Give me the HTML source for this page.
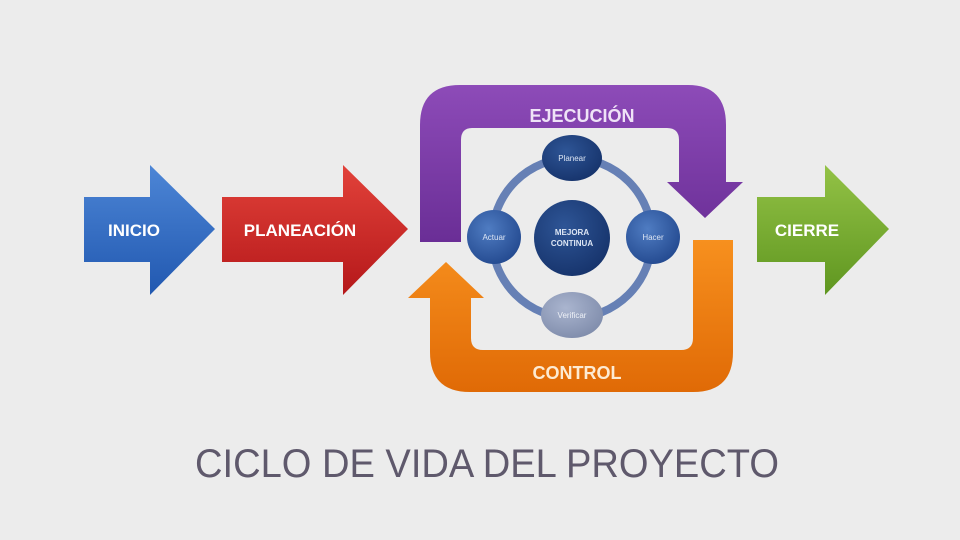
<!DOCTYPE html>
<html><head><meta charset="utf-8"><style>
html,body{margin:0;padding:0;background:#ececec;}
svg{display:block}
text{font-family:"Liberation Sans",sans-serif;}
</style></head><body>
<svg width="960" height="540" viewBox="0 0 960 540" xmlns="http://www.w3.org/2000/svg">
<defs>
<linearGradient id="blue" x1="0" y1="0" x2="0" y2="1"><stop offset="0" stop-color="#4d86d6"/><stop offset="1" stop-color="#2158b0"/></linearGradient>
<linearGradient id="red" x1="0" y1="0" x2="0" y2="1"><stop offset="0" stop-color="#e2423a"/><stop offset="1" stop-color="#b5181a"/></linearGradient>
<linearGradient id="green" x1="0" y1="0" x2="0" y2="1"><stop offset="0" stop-color="#93c246"/><stop offset="1" stop-color="#5f9620"/></linearGradient>
<linearGradient id="purple" x1="0" y1="0" x2="0" y2="1"><stop offset="0" stop-color="#8d4bb8"/><stop offset="1" stop-color="#6a2e96"/></linearGradient>
<linearGradient id="orange" x1="0" y1="0" x2="0" y2="1"><stop offset="0" stop-color="#f7901e"/><stop offset="1" stop-color="#e06a06"/></linearGradient>
<radialGradient id="node" cx="0.4" cy="0.35" r="0.7"><stop offset="0" stop-color="#4f7cc2"/><stop offset="1" stop-color="#23498f"/></radialGradient>
<radialGradient id="dark" cx="0.4" cy="0.35" r="0.7"><stop offset="0" stop-color="#2e5596"/><stop offset="1" stop-color="#16336b"/></radialGradient>
<radialGradient id="pale" cx="0.4" cy="0.35" r="0.7"><stop offset="0" stop-color="#aab5cf"/><stop offset="1" stop-color="#7f8cab"/></radialGradient>
</defs>
<rect width="960" height="540" fill="#ececec"/>
<!-- left arrows -->
<polygon points="84,197 150,197 150,165 215,229 150,295 150,262 84,262" fill="url(#blue)"/>
<text x="134" y="236" font-size="17" font-weight="bold" fill="#fff" text-anchor="middle">INICIO</text>
<polygon points="222,197 343,197 343,165 408,229 343,295 343,262 222,262" fill="url(#red)"/>
<text x="300" y="236" font-size="17" font-weight="bold" fill="#fff" text-anchor="middle">PLANEACIÓN</text>
<polygon points="757,197 825,197 825,165 889,229 825,295 825,262 757,262" fill="url(#green)"/>
<text x="807" y="236" font-size="17" font-weight="bold" fill="#fff" text-anchor="middle">CIERRE</text>
<!-- purple loop -->
<path d="M420,242 L420,125 Q420,85 460,85 L688,85 Q726,85 726,125 L726,182 L743,182 L705,218 L667,182 L679,182 L679,140 Q679,128 667,128 L472,128 Q461,128 461,140 L461,242 Z" fill="url(#purple)"/>
<text x="582" y="122" font-size="18" font-weight="bold" fill="#efe3f7" text-anchor="middle">EJECUCIÓN</text>
<!-- orange loop -->
<path d="M733,240 L733,352 Q733,392 693,392 L470,392 Q430,392 430,352 L430,298 L408,298 L446,262 L484,298 L471,298 L471,338 Q471,350 483,350 L681,350 Q693,350 693,338 L693,240 Z" fill="url(#orange)"/>
<text x="577" y="379" font-size="18" font-weight="bold" fill="#fdebd3" text-anchor="middle">CONTROL</text>
<!-- ring -->
<circle cx="572" cy="238" r="80" fill="none" stroke="#6680b5" stroke-width="8"/>
<circle cx="572" cy="238" r="38" fill="url(#dark)"/>
<text x="572" y="235" font-size="8" font-weight="bold" fill="#dde6f4" text-anchor="middle">MEJORA</text>
<text x="572" y="246" font-size="8" font-weight="bold" fill="#dde6f4" text-anchor="middle">CONTINUA</text>
<ellipse cx="572" cy="158" rx="30" ry="23" fill="url(#dark)"/>
<text x="572" y="161" font-size="8" fill="#dde6f4" text-anchor="middle">Planear</text>
<circle cx="494" cy="237" r="27" fill="url(#node)"/>
<text x="494" y="240" font-size="8" fill="#dde6f4" text-anchor="middle">Actuar</text>
<circle cx="653" cy="237" r="27" fill="url(#node)"/>
<text x="653" y="240" font-size="8" fill="#dde6f4" text-anchor="middle">Hacer</text>
<ellipse cx="572" cy="315" rx="31" ry="23" fill="url(#pale)"/>
<text x="572" y="318" font-size="8" fill="#eef1f7" text-anchor="middle">Verificar</text>
<!-- title -->
<text x="487" y="477" font-size="40" fill="#5f596c" text-anchor="middle" textLength="584" lengthAdjust="spacingAndGlyphs">CICLO DE VIDA DEL PROYECTO</text>
</svg>
</body></html>
